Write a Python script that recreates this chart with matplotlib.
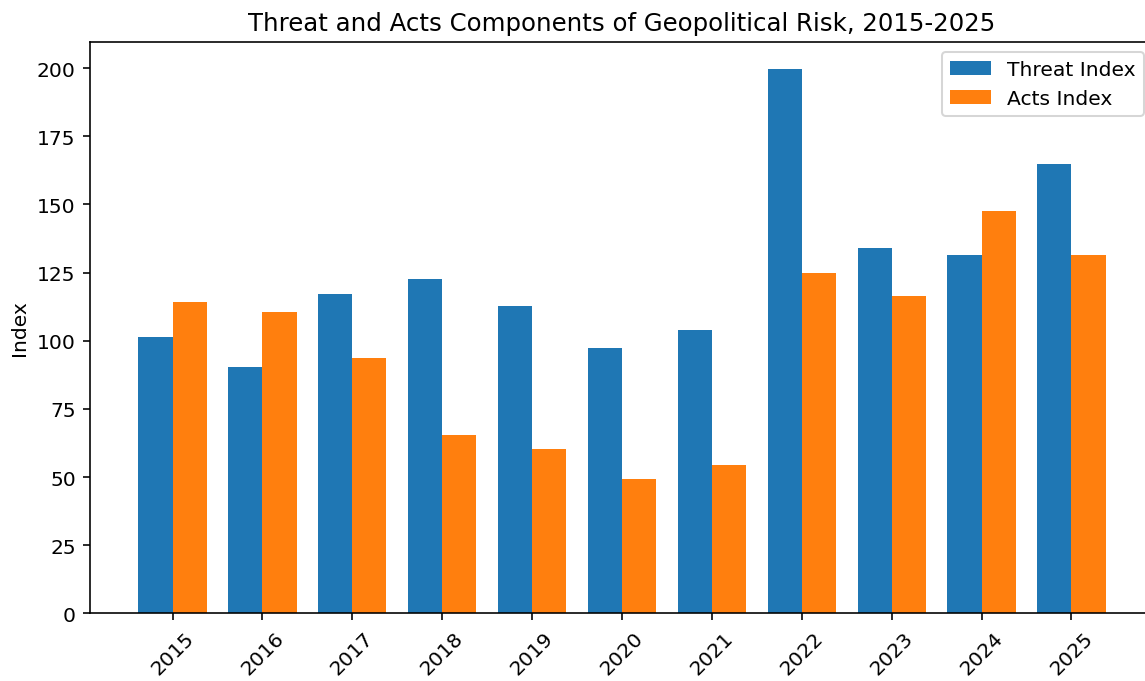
import numpy as np
import matplotlib
matplotlib.use("Agg")
import matplotlib.pyplot as plt

years = ["2015", "2016", "2017", "2018", "2019", "2020", "2021", "2022", "2023", "2024", "2025"]
threat = [101.5, 90.5, 117.3, 122.7, 112.7, 97.4, 104.0, 199.7, 134.1, 131.5, 164.9]
acts = [114.1, 110.7, 93.7, 65.4, 60.4, 49.3, 54.5, 124.8, 116.3, 147.7, 131.5]

dpi = 146
fig = plt.figure(figsize=(1145 / dpi, 682 / dpi), dpi=dpi)
# right edge of the axes sits past the image edge, as in the reference crop
ax = fig.add_axes([90 / 1145, 67.7 / 682, 1064 / 1145, 571.6 / 682])

x = np.arange(len(years))
w = 0.38
ax.bar(x - w / 2, threat, w, label="Threat Index")
ax.bar(x + w / 2, acts, w, label="Acts Index")

ax.set_xticks(x)
ax.set_xticklabels(years, rotation=45)
ax.set_ylabel("Index")
ax.set_title("Threat and Acts Components of Geopolitical Risk, 2015-2025")
ax.legend(loc="upper right")

fig.savefig("out.png", dpi=dpi)
